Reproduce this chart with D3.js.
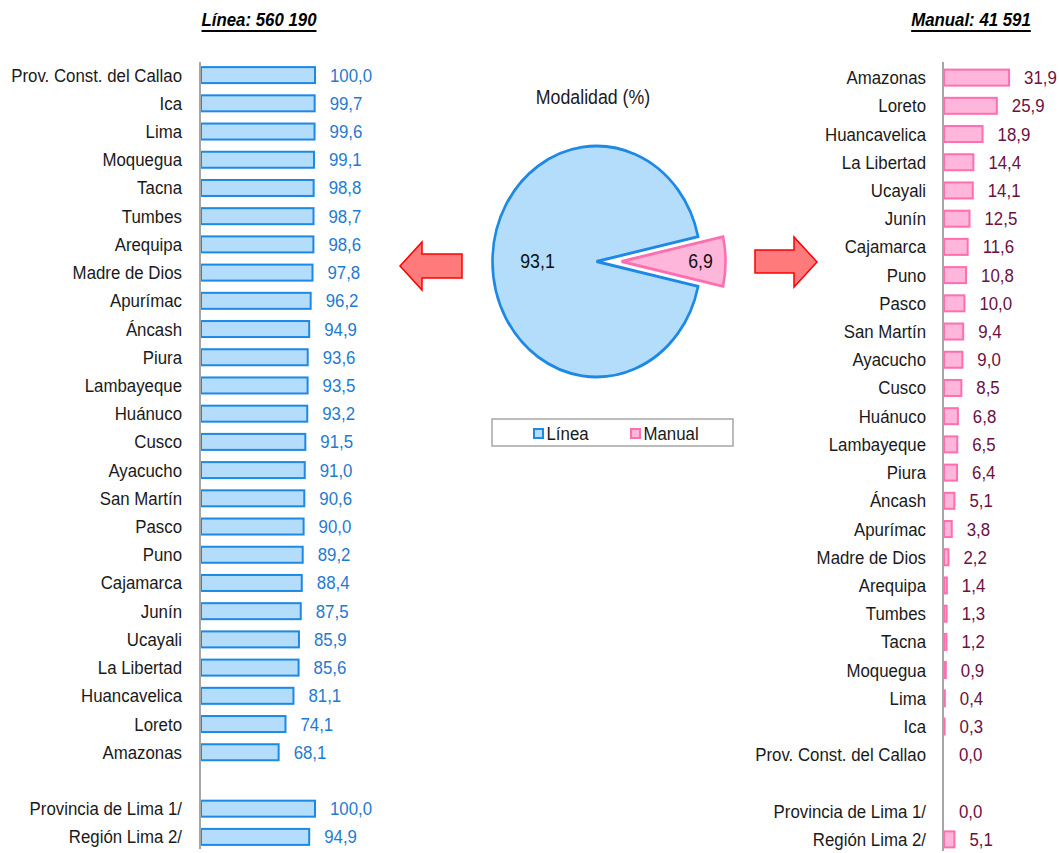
<!DOCTYPE html>
<html>
<head>
<meta charset="utf-8">
<script src="https://cdn.jsdelivr.net/npm/d3@7/dist/d3.min.js"></script>
<style>
  html, body { margin: 0; padding: 0; background: #fff; }
  svg { display: block; }
  text { font-family: "Liberation Sans Narrow", "Arial Narrow", "Liberation Sans", Arial, sans-serif; }
</style>
</head>
<body>
<script>
// ---------- DATA ----------
const lineaCategories = ["Prov. Const. del Callao","Ica","Lima","Moquegua","Tacna","Tumbes","Arequipa","Madre de Dios","Apurímac","Áncash","Piura","Lambayeque","Huánuco","Cusco","Ayacucho","San Martín","Pasco","Puno","Cajamarca","Junín","Ucayali","La Libertad","Huancavelica","Loreto","Amazonas","","Provincia de Lima 1/","Región Lima 2/"];
const lineaValues = [100.0,99.7,99.6,99.1,98.8,98.7,98.6,97.8,96.2,94.9,93.6,93.5,93.2,91.5,91.0,90.6,90.0,89.2,88.4,87.5,85.9,85.6,81.1,74.1,68.1,null,100.0,94.9];

const manualCategories = ["Amazonas","Loreto","Huancavelica","La Libertad","Ucayali","Junín","Cajamarca","Puno","Pasco","San Martín","Ayacucho","Cusco","Huánuco","Lambayeque","Piura","Áncash","Apurímac","Madre de Dios","Arequipa","Tumbes","Tacna","Moquegua","Lima","Ica","Prov. Const. del Callao","","Provincia de Lima 1/","Región Lima 2/"];
const manualValues = [31.9,25.9,18.9,14.4,14.1,12.5,11.6,10.8,10.0,9.4,9.0,8.5,6.8,6.5,6.4,5.1,3.8,2.2,1.4,1.3,1.2,0.9,0.4,0.3,0.0,null,0.0,5.1];

const pieLabels = ["Línea","Manual"];
const pieValues = [93.1, 6.9];

const titleLinea = "Línea: 560 190";
const titleManual = "Manual: 41 591";
const pieTitle = "Modalidad (%)";

// ---------- SETUP ----------
const W = 1059, H = 853;
const svg = d3.select("body").append("svg").attr("width", W).attr("height", H);
const fmt = v => d3.format(".1f")(v).replace(".", ",");
const FS = 18.5, SX = 0.91;

// text helper: horizontally condensed text
function txt(g, x, y, s, anchor, size, fill) {
  return g.append("text")
    .attr("transform", `translate(${x},${y}) scale(${SX},1)`)
    .attr("dy", "0.35em").attr("text-anchor", anchor)
    .attr("font-size", size).attr("fill", fill).text(s);
}

// ---------- LEFT BAR CHART ----------
const yL = d3.scaleBand().domain(d3.range(lineaCategories.length)).range([61, 851]).paddingInner(0.43).paddingOuter(0.215);
const xL = d3.scaleLinear().domain([0, 100]).range([201, 315]);
const gL = svg.append("g");
const barH = 16;
lineaCategories.forEach((c, i) => {
  const cy = yL(i) + yL.bandwidth() / 2;
  if (c) txt(gL, 182, cy, c, "end", FS, "#1a1a1a");
  const v = lineaValues[i];
  if (v !== null) {
    gL.append("rect").attr("x", xL(0)).attr("y", cy - barH / 2)
      .attr("width", xL(v) - xL(0)).attr("height", barH)
      .attr("fill", "#b3ddfb").attr("stroke", "#1e88e5").attr("stroke-width", 2);
    txt(gL, xL(v) + 15, cy, fmt(v), "start", FS, "#1f7bd0");
  }
});
gL.append("line").attr("x1", 200).attr("x2", 200).attr("y1", 62).attr("y2", 849)
  .attr("stroke", "#a6a6a6").attr("stroke-width", 2);

// ---------- RIGHT BAR CHART ----------
const yR = d3.scaleBand().domain(d3.range(manualCategories.length)).range([63.5, 853.5]).paddingInner(0.43).paddingOuter(0.215);
const xR = d3.scaleLinear().domain([0, 50]).range([944, 1046]);
const gR = svg.append("g");
manualCategories.forEach((c, i) => {
  const cy = yR(i) + yR.bandwidth() / 2;
  if (c) txt(gR, 926, cy, c, "end", FS, "#1a1a1a");
  const v = manualValues[i];
  if (v !== null) {
    if (v > 0) {
      gR.append("rect").attr("x", xR(0)).attr("y", cy - barH / 2)
        .attr("width", xR(v) - xR(0)).attr("height", barH)
        .attr("fill", "#ffb6da").attr("stroke", "#ff6fb0").attr("stroke-width", 2);
    }
    txt(gR, xR(v) + 15, cy, fmt(v), "start", FS, "#6d0f3f");
  }
});
gR.append("line").attr("x1", 943).attr("x2", 943).attr("y1", 62).attr("y2", 851)
  .attr("stroke", "#a6a6a6").attr("stroke-width", 2);

// ---------- TITLES ----------
function title(x, y, t) {
  const tx = svg.append("text")
    .attr("transform", `translate(${x},${y}) scale(${SX},1)`)
    .attr("text-anchor", "middle")
    .attr("font-size", 18.5).attr("font-weight", "bold").attr("font-style", "italic")
    .attr("fill", "#000").text(t);
  const w = tx.node().getComputedTextLength() * SX;
  svg.append("line").attr("x1", x - w / 2).attr("x2", x + w / 2)
    .attr("y1", y + 5).attr("y2", y + 5).attr("stroke", "#000").attr("stroke-width", 2);
}
title(259, 26, titleLinea);
title(971, 26, titleManual);

txt(svg, 593, 97, pieTitle, "middle", 19.5, "#1a1a1a");

// ---------- PIE ----------
const R = 104;
const manualSpan = pieValues[1] / d3.sum(pieValues) * 2 * Math.PI;
const start = Math.PI / 2 + manualSpan / 2;
const pie = d3.pie().sort(null).startAngle(start).endAngle(start + 2 * Math.PI);
const arcs = pie(pieValues);
const arc = d3.arc().innerRadius(0).outerRadius(R);
const pieFill = ["#b3ddfb", "#ffb6da"];
const pieStroke = ["#1e88e5", "#ff6fb0"];
const explode = [0, 25];
const labelR = [59, 79];
const gP = svg.append("g").attr("transform", "translate(596.5,261.5)");
const gPs = gP.append("g").attr("transform", "scale(1,1.11)");
arcs.forEach((a, i) => {
  const mid = (a.startAngle + a.endAngle) / 2;
  const dx = Math.sin(mid) * explode[i], dy = -Math.cos(mid) * explode[i];
  gPs.append("path").attr("d", arc(a)).attr("transform", `translate(${dx},${dy})`)
    .attr("fill", pieFill[i]).attr("stroke", pieStroke[i]).attr("stroke-width", 2.6)
    .attr("stroke-linejoin", "miter");
  const lr = labelR[i] + explode[i];
  txt(gP, Math.sin(mid) * lr, -Math.cos(mid) * lr * 1.11, fmt(pieValues[i]), "middle", 19.5, "#111");
});

// ---------- ARROWS ----------
function arrow(points) {
  svg.append("polygon").attr("points", points.map(p => p.join(",")).join(" "))
    .attr("fill", "#ff7b7b").attr("stroke", "#ff0000").attr("stroke-width", 1.5);
}
arrow([[462,254],[422,254],[422,242],[400,266],[422,290],[422,278],[462,278]]);
arrow([[755,250],[794,250],[794,237],[817,262],[794,287],[794,273],[755,273]]);

// ---------- LEGEND ----------
const gLeg = svg.append("g");
gLeg.append("rect").attr("x", 492).attr("y", 419).attr("width", 241).attr("height", 27)
  .attr("fill", "#fff").attr("stroke", "#a6a6a6").attr("stroke-width", 1.5);
const legX = [533, 630];
pieLabels.forEach((l, i) => {
  gLeg.append("rect").attr("x", legX[i] + 1).attr("y", 429).attr("width", 9).attr("height", 9)
    .attr("fill", pieFill[i]).attr("stroke", pieStroke[i]).attr("stroke-width", 2);
  txt(gLeg, legX[i] + 13.5, 433.5, l, "start", FS, "#1a1a1a");
});
</script>
</body>
</html>
